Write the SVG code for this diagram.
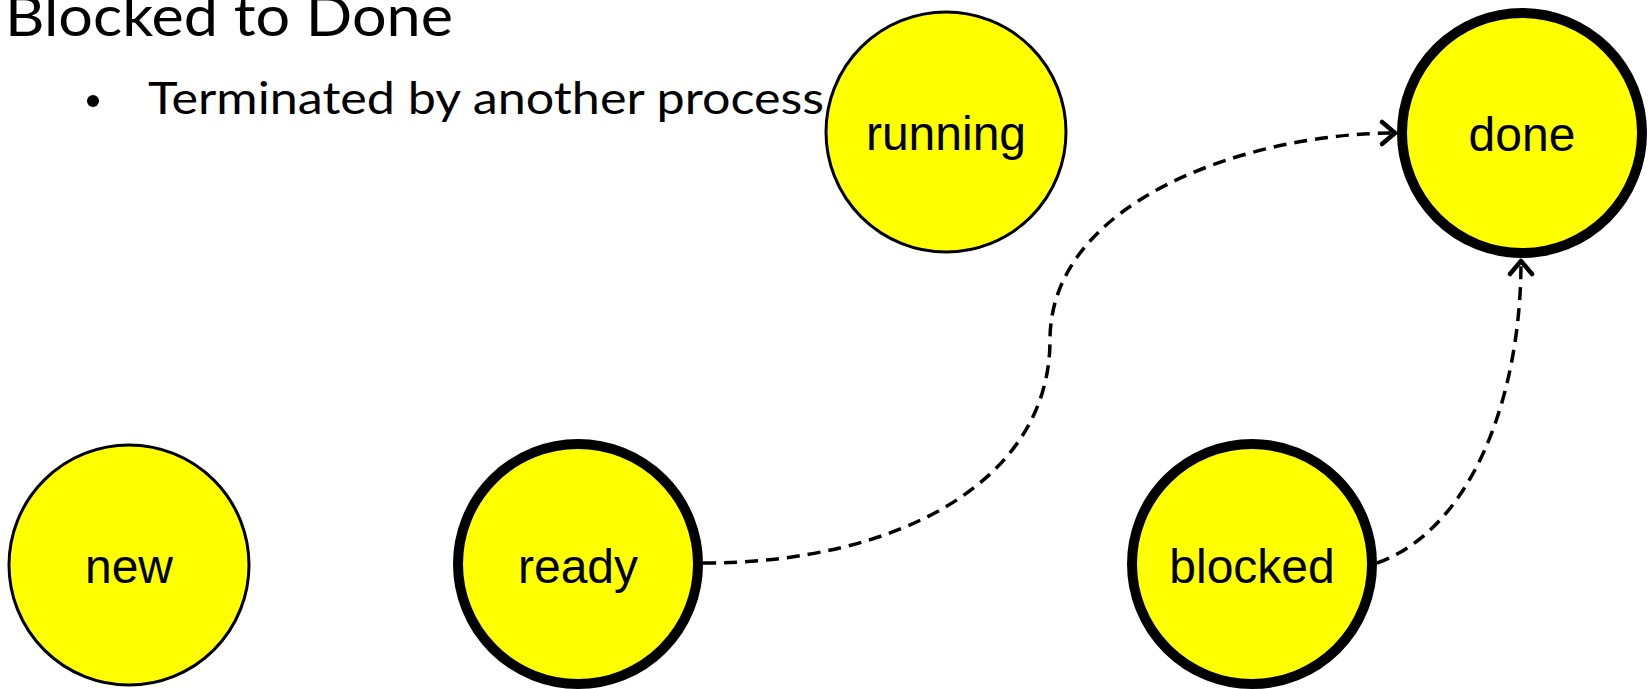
<svg xmlns="http://www.w3.org/2000/svg" width="1650" height="689" viewBox="0 0 1650 689">
  <style>
    .state { fill: #ffff00; stroke: #000; }
    .thin { stroke-width: 3; }
    .thick { stroke-width: 10; }
    .label { font-family: "Liberation Sans", Arial, sans-serif; font-size: 48px; fill: #000; text-anchor: middle; }
    .heading { font-family: Lato, "Open Sans", sans-serif; fill: #000; }
    .edge { fill: none; stroke: #000; stroke-width: 3.5; stroke-dasharray: 13 8; }
  </style>
  <defs>
    <marker id="open-arrow" markerUnits="userSpaceOnUse" markerWidth="22" markerHeight="26" refX="16" refY="13" orient="auto" overflow="visible">
      <path d="M3,2 L16,13 L3,24" fill="none" stroke="#000" stroke-width="4.5" stroke-linecap="round" stroke-linejoin="round"/>
    </marker>
  </defs>
  <rect width="1650" height="689" fill="#fff"/>

  <!-- slide heading -->
  <g id="heading">
    <text class="heading" x="5" y="36" font-size="56" textLength="448" lengthAdjust="spacingAndGlyphs">Blocked to Done</text>
    <circle cx="93" cy="101" r="6" fill="#000"/>
    <text class="heading" x="148" y="114" font-size="44" textLength="676" lengthAdjust="spacingAndGlyphs">Terminated by another process</text>
  </g>

  <!-- process states -->
  <g id="running">
    <circle class="state thin" cx="946" cy="132" r="120"/>
    <text class="label" x="946" y="150">running</text>
  </g>
  <g id="done">
    <circle class="state thick" cx="1522" cy="133" r="120"/>
    <text class="label" x="1522" y="151">done</text>
  </g>
  <g id="new">
    <circle class="state thin" cx="129" cy="565" r="120"/>
    <text class="label" x="129" y="583">new</text>
  </g>
  <g id="ready">
    <circle class="state thick" cx="578" cy="564" r="120"/>
    <text class="label" x="578" y="583">ready</text>
  </g>
  <g id="blocked">
    <circle class="state thick" cx="1252" cy="564" r="120"/>
    <text class="label" x="1252" y="583">blocked</text>
  </g>

  <!-- transitions -->
  <g id="connectors">
    <path class="edge" d="M703,563 C900,563 1050,480 1050,340 C1050,200 1250,133 1395,133" marker-end="url(#open-arrow)"/>
    <path class="edge" d="M1377,563 C1470,530 1521,400 1521,261" marker-end="url(#open-arrow)"/>
  </g>
</svg>
